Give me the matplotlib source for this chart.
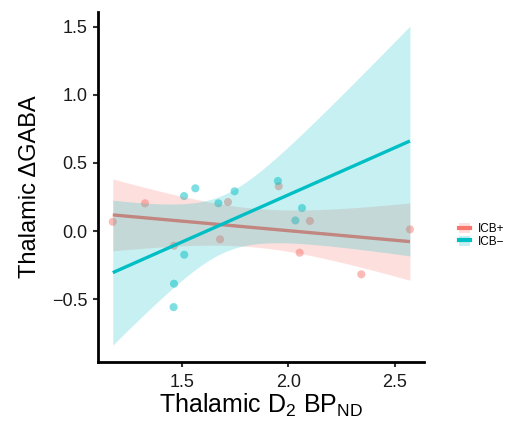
import numpy as np
import matplotlib
matplotlib.use("Agg")
import matplotlib.pyplot as plt
from matplotlib.lines import Line2D
from matplotlib.patches import Patch
from matplotlib.legend_handler import HandlerTuple

# --- Dati ---
groups = ["ICB+", "ICB\u2212"]
colors = ["#F8766D", "#00BFC4"]

icb_pos_x = [1.177, 1.328, 1.464, 1.717, 1.680, 1.955, 2.101, 2.053, 2.342, 2.570]
icb_pos_y = [0.068, 0.204, -0.108, 0.213, -0.061, 0.329, 0.074, -0.159, -0.318, 0.012]

icb_neg_x = [1.511, 1.564, 1.672, 1.748, 1.951, 2.033, 2.064, 1.512, 1.464, 1.462]
icb_neg_y = [0.257, 0.314, 0.204, 0.292, 0.368, 0.078, 0.169, -0.174, -0.387, -0.559]

xticks = [1.5, 2.0, 2.5]
yticks = [-0.5, 0.0, 0.5, 1.0, 1.5]

plt.rcParams['font.family'] = ['Liberation Sans', 'DejaVu Sans']
plt.rcParams['mathtext.fontset'] = 'custom'
plt.rcParams['mathtext.rm'] = 'Liberation Sans'


def t975(df):
    try:
        from scipy import stats
        return stats.t.ppf(0.975, df)
    except Exception:
        table = {6: 2.447, 7: 2.365, 8: 2.306, 9: 2.262, 10: 2.228}
        return table.get(df, 1.96)


def lm_ci(x, y, xs):
    """Retta ai minimi quadrati con banda di confidenza al 95%."""
    x = np.asarray(x); y = np.asarray(y)
    n = len(x)
    b, a = np.polyfit(x, y, 1)
    res = y - (a + b * x)
    s = np.sqrt(np.sum(res ** 2) / (n - 2))
    sxx = np.sum((x - x.mean()) ** 2)
    fit = a + b * xs
    se = s * np.sqrt(1.0 / n + (xs - x.mean()) ** 2 / sxx)
    t = t975(n - 2)
    return fit, fit - t * se, fit + t * se


fig = plt.figure(figsize=(5.09, 4.26), dpi=100)
ax = fig.add_axes([0.1925, 0.150, 0.6405, 0.822])

data = [(icb_pos_x, icb_pos_y), (icb_neg_x, icb_neg_y)]
all_x = icb_pos_x + icb_neg_x
xs = np.linspace(min(all_x), max(all_x), 200)

# punti sotto, poi banda + retta per gruppo (come ggplot)
for (gx, gy), c in zip(data, colors):
    ax.scatter(gx, gy, s=34, color=c, alpha=0.5, edgecolors='none', zorder=1)

for i, ((gx, gy), c) in enumerate(zip(data, colors)):
    fit, lo, hi = lm_ci(gx, gy, xs)
    ax.fill_between(xs, lo, hi, color=c, alpha=0.22, linewidth=0, zorder=2 + 2 * i)
    ax.plot(xs, fit, color=c, lw=2.4, zorder=3 + 2 * i, solid_capstyle='butt')

ax.set_xlim(1.1076, 2.636)
ax.set_ylim(-0.963, 1.610)
ax.set_xticks(xticks)
ax.set_yticks(yticks)
ax.set_xticklabels([f"{v:.1f}" for v in xticks])
ax.set_yticklabels([f"{v:.1f}".replace("-", "\u2212") for v in yticks])

for side in ['top', 'right']:
    ax.spines[side].set_visible(False)
for side in ['left', 'bottom']:
    ax.spines[side].set_linewidth(2.0)
    ax.spines[side].set_color('black')
ax.tick_params(length=3.5, width=1.5, color='#333333', labelsize=13,
               labelcolor='#1a1a1a')
ax.tick_params(axis='x', pad=5)
ax.tick_params(axis='y', pad=4)

ax.set_xlabel(r"Thalamic D$_2$ BP$_{\mathrm{ND}}$", fontsize=18, labelpad=1)
ax.set_ylabel("Thalamic \u0394GABA", fontsize=17, labelpad=8)

handles = []
for g, c in zip(groups, colors):
    handles.append((Patch(facecolor=c, alpha=0.22, edgecolor='none'),
                    Line2D([], [], color=c, lw=3)))
fig.legend(handles, groups, handler_map={tuple: HandlerTuple(ndivide=1)},
           loc='center left', bbox_to_anchor=(0.89, 0.447), frameon=False,
           fontsize=8.5, handlelength=0.9, handleheight=0.9, labelspacing=0.05,
           handletextpad=0.7, borderpad=0)

fig.savefig("out.png", dpi=100)
